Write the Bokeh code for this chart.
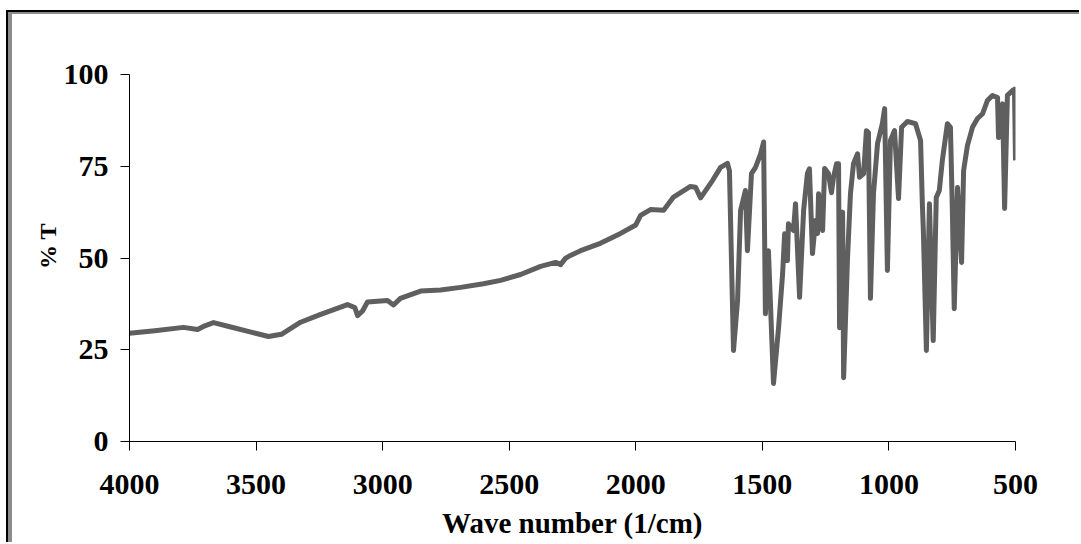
from bokeh.plotting import figure
from bokeh.models import Range1d, FixedTicker
from bokeh.embed import file_html
from bokeh.resources import INLINE

wavenumber = [4000, 3900, 3787, 3731, 3700, 3668, 3600, 3520, 3451, 3400, 3324, 3250, 3166, 3139,
              3110, 3099, 3080, 3060, 2981, 2957, 2930, 2850, 2771, 2692, 2602, 2534, 2455, 2376,
              2317, 2297, 2278, 2258, 2218, 2140, 2060, 2000, 1981, 1942, 1890, 1851, 1784, 1764,
              1744, 1697, 1665, 1638, 1630, 1614, 1598, 1586, 1567, 1559, 1543, 1527, 1507, 1495,
              1488, 1476, 1456, 1436, 1420, 1412, 1401, 1397, 1377, 1369, 1353, 1337, 1322, 1314,
              1302, 1290, 1282, 1278, 1262, 1254, 1239, 1227, 1219, 1207, 1199, 1195, 1183, 1179,
              1164, 1152, 1140, 1124, 1116, 1100, 1089, 1081, 1073, 1061, 1045, 1026, 1017, 1006,
              994, 978, 962, 950, 927, 895, 875, 868, 864, 852, 840, 825, 813, 801, 789, 769,
              757, 750, 742, 729, 713, 705, 690, 670, 650, 630, 611, 591, 571, 567, 551, 543,
              532, 512, 504, 500]
transmittance = [29.5, 30.2, 31.1, 30.5, 31.6, 32.4, 31.2, 29.8, 28.6, 29.2, 32.5, 34.5, 36.6, 37.3,
                 36.5, 34.3, 35.5, 38.0, 38.4, 37.2, 39.0, 41.0, 41.3, 42.0, 43.0, 43.9, 45.5, 47.7,
                 48.8, 48.2, 49.9, 50.7, 52.0, 54.0, 56.7, 59.0, 61.6, 63.2, 63.0, 66.6, 69.5, 69.3,
                 66.4, 71.1, 74.7, 75.8, 73.8, 24.8, 38.4, 63.0, 68.4, 52.0, 73.0, 74.7, 78.4, 81.6,
                 34.8, 52.0, 15.8, 31.0, 45.7, 56.6, 49.3, 59.3, 57.5, 64.8, 39.3, 63.0, 73.0, 74.3,
                 51.2, 60.2, 56.7, 67.5, 57.5, 74.4, 73.0, 67.8, 72.0, 75.7, 75.7, 31.0, 62.5, 17.4,
                 49.3, 67.5, 75.7, 78.4, 72.0, 73.0, 84.7, 84.2, 39.0, 67.5, 81.2, 86.6, 90.7, 46.6,
                 82.0, 84.7, 66.2, 85.6, 87.2, 86.6, 82.0, 64.8, 57.5, 24.8, 64.8, 27.5, 66.5, 68.4, 76.6, 86.6,
                 85.6, 64.8, 36.2, 69.2, 48.8, 73.8, 80.6, 85.6, 88.0, 89.3, 92.9, 94.3, 93.7, 82.8, 92.0, 63.5,
                 94.3, 95.6, 96.0, 76.6]

x_ticks = [4000, 3500, 3000, 2500, 2000, 1500, 1000, 500]
y_ticks = [0, 25, 50, 75, 100]

FONT = "Liberation Serif"

# canvas starts at (8, 12) in the window: 6px margin + 2px black border
p = figure(width=1073, height=532, output_backend="svg", toolbar_location=None,
           x_range=Range1d(4000, 500), y_range=Range1d(0, 100),
           min_border_left=121, min_border_right=66, min_border_top=62, min_border_bottom=103)
p.border_fill_color = None
p.background_fill_color = "white"
p.outline_line_color = None
p.styles = {"margin-left": "6px", "margin-top": "10px",
            "border-left": "2px solid black", "border-top": "2px solid black",
            "box-shadow": "inset 4px 2px 0 0 #8c8c8c", "background-color": "white"}
p.xgrid.visible = False
p.ygrid.visible = False

p.line(wavenumber, transmittance, line_color="#5f5f5f", line_width=5, line_join="round")

for ax in (p.xaxis[0], p.yaxis[0]):
    ax.axis_line_color = "black"
    ax.axis_line_width = 1
    ax.major_tick_line_color = "black"
    ax.major_tick_out = 9
    ax.major_tick_in = 0
    ax.minor_tick_line_color = None
    ax.major_label_text_font = FONT
    ax.major_label_text_font_style = "bold"
    ax.major_label_text_font_size = "30px"
    ax.major_label_text_color = "black"
    ax.axis_label_text_font = FONT
    ax.axis_label_text_font_style = "bold"
    ax.axis_label_text_color = "black"

p.xaxis.ticker = FixedTicker(ticks=x_ticks)
p.yaxis.ticker = FixedTicker(ticks=y_ticks)
p.xaxis.major_label_standoff = 24
p.yaxis.major_label_standoff = 12
p.xaxis.axis_label = "Wave number (1/cm)"
p.xaxis.axis_label_text_font_size = "29px"
p.xaxis.axis_label_standoff = 10
p.yaxis.axis_label = "\u00a0\u00a0\u00a0\u00a0% T"
p.yaxis.axis_label_text_font_size = "24px"
p.yaxis.axis_label_standoff = 0

open("out.html", "w").write(file_html(p, INLINE))
